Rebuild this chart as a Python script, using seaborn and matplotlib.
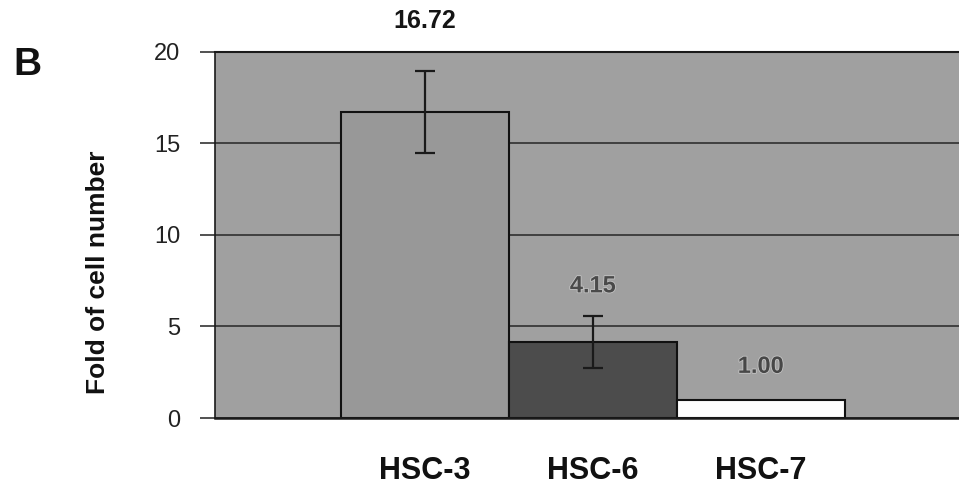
import matplotlib
matplotlib.use("Agg")
import matplotlib.pyplot as plt
import matplotlib.patheffects as pe
import numpy as np
import pandas as pd
import seaborn as sns

# Fold change in cell number per cell line (mean and SD)
cell_lines = ["HSC-3", "HSC-6", "HSC-7"]
fold_change = [16.72, 4.15, 1.00]
fold_sd = [2.25, 1.40, 0.0]
value_labels = ["16.72", "4.15", "1.00"]
y_ticks = [0, 5, 10, 15, 20]

# Styling
bar_colors = ["#989898", "#4c4c4c", "#ffffff"]
label_colors = ["#151515", "#4a4a4a", "#474747"]
label_sizes = [18, 17, 17]
label_offsets = [36, 22, 24]   # points above the top of bar / error bar

sns.set_theme(style="white")
plt.rcParams["font.family"] = ["Liberation Sans", "DejaVu Sans"]

fig = plt.figure(figsize=(9.59, 4.92), dpi=100)
fig.patch.set_facecolor("white")
ax = fig.add_axes([0.2242, 0.1504, 0.788, 0.744])
ax.set_facecolor("#a0a0a0")

df = pd.DataFrame({"line": cell_lines, "fold": fold_change})
sns.barplot(data=df, x="line", y="fold", hue="line", palette=bar_colors,
            legend=False, width=1.0, edgecolor="#111111", linewidth=1.5,
            saturation=1.0, errorbar=None, ax=ax)

# Error bars (only where a deviation was measured)
xs = np.arange(len(cell_lines))
sd = np.array(fold_sd)
has_sd = sd > 0
ax.errorbar(xs[has_sd], np.array(fold_change)[has_sd], yerr=sd[has_sd],
            fmt="none", ecolor="#1a1a1a", elinewidth=1.6, capsize=7,
            capthick=1.6, zorder=4)

# Value labels above each bar
for i, (v, s, txt) in enumerate(zip(fold_change, fold_sd, value_labels)):
    ax.annotate(txt, (i, v + s), xytext=(0, label_offsets[i]),
                textcoords="offset points", ha="center", va="center",
                fontsize=label_sizes[i], fontweight="bold",
                color=label_colors[i], annotation_clip=False, zorder=5,
                path_effects=[pe.withStroke(linewidth=1.2, foreground="#c4c4c4")]
                if i > 0 else None)

ax.set_xlim(-1.25, 3.25)
ax.set_ylim(0, 20)
ax.set_yticks(y_ticks)
ax.set_yticklabels([str(t) for t in y_ticks], fontsize=17, color="#222222")
ax.set_xlabel("")
ax.set_ylabel("")
ax.tick_params(axis="x", length=0, pad=27, labelsize=22)
for lab in ax.get_xticklabels():
    lab.set_fontweight("bold")
    lab.set_color("#111111")
ax.tick_params(axis="y", left=True, direction="out", length=11, width=1.2,
               color="#333333", pad=14)

ax.set_axisbelow(True)
ax.yaxis.grid(True, color="#262626", linewidth=1.1)
ax.xaxis.grid(False)

for side in ["left", "bottom", "top", "right"]:
    ax.spines[side].set_visible(True)
    ax.spines[side].set_color("#1a1a1a")
ax.spines["left"].set_linewidth(1.2)
ax.spines["top"].set_linewidth(1.5)
ax.spines["bottom"].set_linewidth(1.8)

fig.text(98 / 959, 1 - 272 / 492, "Fold of cell number", rotation=90,
         ha="center", va="center", fontsize=19, fontweight="bold",
         color="#111111")
fig.text(13 / 959, 1 - 65 / 492, "B", ha="left", va="center",
         fontsize=28, fontweight="bold", color="#111111")

fig.savefig("out.png", dpi=100)
